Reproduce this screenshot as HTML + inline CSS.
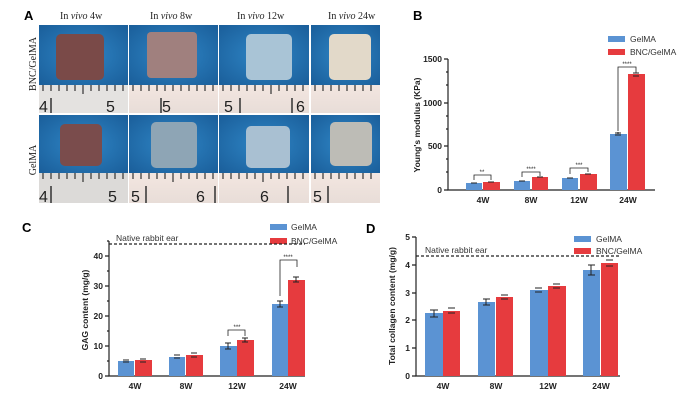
<!DOCTYPE html>
<html><head><meta charset="utf-8"><style>
body{margin:0;background:#fff}
svg{display:block;font-family:"Liberation Sans",Arial,sans-serif}
.t{font-size:8.5px;font-weight:bold;fill:#222}
.s{font-family:"Liberation Serif",serif;font-size:10px;fill:#222}
</style></head><body>
<svg width="692" height="406" viewBox="0 0 692 406">
<defs>
<radialGradient id="bl" cx="50%" cy="50%" r="70%"><stop offset="0" stop-color="#2f86c6"/><stop offset="1" stop-color="#1a5e9a"/></radialGradient>
<linearGradient id="ru" x1="0" y1="0" x2="0" y2="1"><stop offset="0" stop-color="#f3e6e0"/><stop offset="1" stop-color="#e8ddd8"/></linearGradient>
</defs>
<text x="24" y="20" font-size="13" font-weight="bold">A</text>
<text class="s" x="60" y="19">In <tspan font-style="italic">vivo</tspan> 4w</text>
<text class="s" x="150" y="19">In <tspan font-style="italic">vivo</tspan> 8w</text>
<text class="s" x="237" y="19">In <tspan font-style="italic">vivo</tspan> 12w</text>
<text class="s" x="328" y="19">In <tspan font-style="italic">vivo</tspan> 24w</text>
<text class="s" text-anchor="middle" transform="translate(36,64) rotate(-90)">BNC/GelMA</text>
<text class="s" text-anchor="middle" transform="translate(36,160) rotate(-90)">GelMA</text>
<g>
<rect x="39" y="25" width="89" height="60" fill="url(#bl)"/>
<rect x="129" y="25" width="89" height="60" fill="url(#bl)"/>
<rect x="219" y="25" width="90" height="60" fill="url(#bl)"/>
<rect x="311" y="25" width="69" height="60" fill="url(#bl)"/>
<rect x="39" y="115" width="89" height="58" fill="url(#bl)"/>
<rect x="129" y="115" width="89" height="58" fill="url(#bl)"/>
<rect x="219" y="115" width="90" height="58" fill="url(#bl)"/>
<rect x="311" y="115" width="69" height="58" fill="url(#bl)"/>
<rect x="56" y="34" width="48" height="46" rx="5" fill="#7a4a48"/>
<rect x="147" y="32" width="50" height="46" rx="4" fill="#a0807e"/>
<rect x="246" y="34" width="46" height="46" rx="5" fill="#a9c4d6"/>
<rect x="329" y="34" width="42" height="46" rx="5" fill="#e2d9c9"/>
<rect x="60" y="124" width="42" height="42" rx="5" fill="#7a4c4c"/>
<rect x="151" y="122" width="46" height="46" rx="5" fill="#8ea5b5"/>
<rect x="246" y="126" width="44" height="42" rx="5" fill="#a9c0d2"/>
<rect x="330" y="122" width="42" height="44" rx="5" fill="#bdbcb6"/>
<rect x="39" y="85" width="89" height="28" fill="#e4e2e0"/>
<rect x="129" y="85" width="89" height="28" fill="url(#ru)"/>
<rect x="219" y="85" width="90" height="28" fill="url(#ru)"/>
<rect x="311" y="85" width="69" height="28" fill="url(#ru)"/>
<rect x="39" y="173" width="89" height="30" fill="#dcdad8"/>
<rect x="129" y="173" width="89" height="30" fill="url(#ru)"/>
<rect x="219" y="173" width="90" height="30" fill="url(#ru)"/>
<rect x="311" y="173" width="69" height="30" fill="url(#ru)"/>
<g stroke="#333" stroke-width="1.2">
<path d="M43 85v6M51 85v6M59 85v6M67 85v6M75 85v6M83 85v9M91 85v6M99 85v6M107 85v6M115 85v6M123 85v6M133 85v6M141 85v6M149 85v6M157 85v6M165 85v6M173 85v6M181 85v6M189 85v6M197 85v6M205 85v6M213 85v6M223 85v6M231 85v6M239 85v6M247 85v6M255 85v6M263 85v6M271 85v9M279 85v6M287 85v6M295 85v6M303 85v6M315 85v6M323 85v6M331 85v6M339 85v6M347 85v6M355 85v6M363 85v6M371 85v6"/>
<path d="M43 173v6M51 173v6M59 173v6M67 173v6M75 173v6M83 173v9M91 173v6M99 173v6M107 173v6M115 173v6M123 173v6M133 173v6M141 173v6M149 173v6M157 173v6M165 173v6M173 173v9M181 173v6M189 173v6M197 173v6M205 173v6M213 173v6M223 173v6M231 173v6M239 173v6M247 173v6M255 173v6M263 173v9M271 173v6M279 173v6M287 173v6M295 173v6M303 173v6M315 173v6M323 173v6M331 173v6M339 173v6M347 173v6M355 173v6M363 173v6M371 173v6"/>
<path d="M51 98v15M161 98v15M240 98v15M292 98v15M51 186v17M146 186v17M215 186v17M288 186v17M328 186v17" stroke-width="1.5"/>
</g>
<g font-size="16" fill="#222">
<text x="39" y="112">4</text><text x="106" y="112">5</text>
<text x="162" y="112">5</text>
<text x="224" y="112">5</text><text x="296" y="112">6</text>
<text x="39" y="202">4</text><text x="108" y="202">5</text>
<text x="131" y="202">5</text><text x="196" y="202">6</text>
<text x="260" y="202">6</text>
<text x="313" y="202">5</text>
</g>
</g>

<text x="413" y="20" font-size="13" font-weight="bold">B</text>
<rect x="608" y="36" width="17" height="6" fill="#5b93d3"/><text x="630" y="42" font-size="8.5" fill="#333">GelMA</text>
<rect x="608" y="49" width="17" height="6" fill="#e63b3e"/><text x="630" y="55" font-size="8.5" fill="#333">BNC/GelMA</text>
<g stroke="#222" stroke-width="1.2" fill="none">
<path d="M448 59V190H655"/>
<path d="M444 59h4M444 103h4M444 146h4M444 190h4M446 72h2M446 85h2M446 116h2M446 129h2M446 159h2M446 172h2"/>
</g>
<g class="t" text-anchor="end"><text x="442" y="62">1500</text><text x="442" y="106">1000</text><text x="442" y="149">500</text><text x="442" y="193">0</text></g>
<text class="t" transform="translate(420,125) rotate(-90)" text-anchor="middle" font-size="10">Young's modulus (KPa)</text>
<g fill="#5b93d3"><rect x="466" y="183" width="16" height="7"/><rect x="514" y="181" width="16" height="9"/><rect x="562" y="178" width="16" height="12"/><rect x="610" y="134" width="17" height="56"/></g>
<g fill="#e63b3e"><rect x="483" y="182" width="17" height="8"/><rect x="532" y="177" width="16" height="13"/><rect x="580" y="174" width="17" height="16"/><rect x="628" y="74" width="17" height="116"/></g>
<g stroke="#222" stroke-width="1" fill="none">
<path d="M471 183h6M488 182h6M519 181h6M537 177h6M567 178h6M585 174h6M615 133h6M615 135h6M633 73h6M633 76h6M618 134v-2"/>
<path d="M474 180v-5h17v5M522 177v-5h18v4M570 174v-6h18v4M618 131V67h18v6" stroke-width=".8"/>
</g>
<g font-size="6" text-anchor="middle" fill="#222"><text x="482" y="174">**</text><text x="531" y="171">****</text><text x="579" y="167">***</text><text x="627" y="66">****</text></g>
<g class="t" text-anchor="middle"><text x="483" y="203">4W</text><text x="531" y="203">8W</text><text x="579" y="203">12W</text><text x="628" y="203">24W</text></g>

<text x="22" y="232" font-size="13" font-weight="bold">C</text>
<rect x="270" y="224" width="17" height="6" fill="#5b93d3"/><text x="291" y="230" font-size="8.5" fill="#333">GelMA</text>
<rect x="270" y="238" width="17" height="6" fill="#e63b3e"/><text x="291" y="244" font-size="8.5" fill="#333">BNC/GelMA</text>
<text x="116" y="241" font-size="8.5" fill="#333">Native rabbit ear</text>
<path d="M109 244H305" stroke="#222" stroke-width="1.2" stroke-dasharray="3,2"/>
<g stroke="#222" stroke-width="1.2" fill="none">
<path d="M109 241V376H305"/>
<path d="M105 256h4M105 286h4M105 316h4M105 346h4M105 376h4M107 271h2M107 301h2M107 331h2M107 361h2M107 241h2"/>
</g>
<g class="t" text-anchor="end"><text x="103" y="259">40</text><text x="103" y="289">30</text><text x="103" y="319">20</text><text x="103" y="349">10</text><text x="103" y="379">0</text></g>
<text class="t" transform="translate(88,310) rotate(-90)" text-anchor="middle" font-size="10">GAG content (mg/g)</text>
<g fill="#5b93d3"><rect x="118" y="361" width="16" height="15"/><rect x="169" y="357" width="16" height="19"/><rect x="220" y="346" width="17" height="30"/><rect x="272" y="304" width="16" height="72"/></g>
<g fill="#e63b3e"><rect x="135" y="360" width="17" height="16"/><rect x="186" y="355" width="17" height="21"/><rect x="237" y="340" width="17" height="36"/><rect x="288" y="280" width="17" height="96"/></g>
<g stroke="#222" stroke-width="1" fill="none">
<path d="M123 360h6M140 359h6M174 355h6M191 353h6M225 343h6M242 338h6M277 301h6M293 277h6M123 362h6M140 362h6M174 358h6M191 357h6M225 349h6M242 342h6M277 307h6M293 282h6M228 343v6M245 338v4M280 301v6M296 277v5"/>
<path d="M228 336v-6h17v6M280 296V260h17v7" stroke-width=".8"/>
</g>
<g font-size="6" text-anchor="middle" fill="#222"><text x="237" y="329">***</text><text x="288" y="259">****</text></g>
<g class="t" text-anchor="middle"><text x="135" y="389">4W</text><text x="186" y="389">8W</text><text x="237" y="389">12W</text><text x="288" y="389">24W</text></g>

<text x="366" y="233" font-size="13" font-weight="bold">D</text>
<rect x="574" y="236" width="17" height="6" fill="#5b93d3"/><text x="596" y="242" font-size="8.5" fill="#333">GelMA</text>
<rect x="574" y="248" width="17" height="6" fill="#e63b3e"/><text x="596" y="254" font-size="8.5" fill="#333">BNC/GelMA</text>
<text x="425" y="253" font-size="8.5" fill="#333">Native rabbit ear</text>
<path d="M416 256H620" stroke="#222" stroke-width="1.2" stroke-dasharray="3,2"/>
<g stroke="#222" stroke-width="1.2" fill="none">
<path d="M416 237V376H620"/>
<path d="M412 237h4M412 265h4M412 293h4M412 320h4M412 348h4M412 376h4"/>
</g>
<g class="t" text-anchor="end"><text x="410" y="240">5</text><text x="410" y="268">4</text><text x="410" y="296">3</text><text x="410" y="323">2</text><text x="410" y="351">1</text><text x="410" y="379">0</text></g>
<text class="t" transform="translate(395,306) rotate(-90)" text-anchor="middle" font-size="10">Total collagen content (mg/g)</text>
<g fill="#5b93d3"><rect x="425" y="313" width="18" height="63"/><rect x="478" y="302" width="17" height="74"/><rect x="530" y="290" width="18" height="86"/><rect x="583" y="270" width="17" height="106"/></g>
<g fill="#e63b3e"><rect x="443" y="311" width="17" height="65"/><rect x="496" y="297" width="17" height="79"/><rect x="548" y="286" width="18" height="90"/><rect x="601" y="263" width="17" height="113"/></g>
<g stroke="#222" stroke-width="1" fill="none">
<path d="M430 310h8M430 317h8M434 310v7M448 308h7M448 313h7M483 299h7M483 305h7M486 299v6M501 295h7M501 299h7M535 288h7M535 292h7M553 284h7M553 288h7M588 265h7M588 275h7M591 265v10M606 260h7M606 266h7"/>
</g>
<g class="t" text-anchor="middle"><text x="443" y="389">4W</text><text x="496" y="389">8W</text><text x="548" y="389">12W</text><text x="601" y="389">24W</text></g>
</svg>
</body></html>
